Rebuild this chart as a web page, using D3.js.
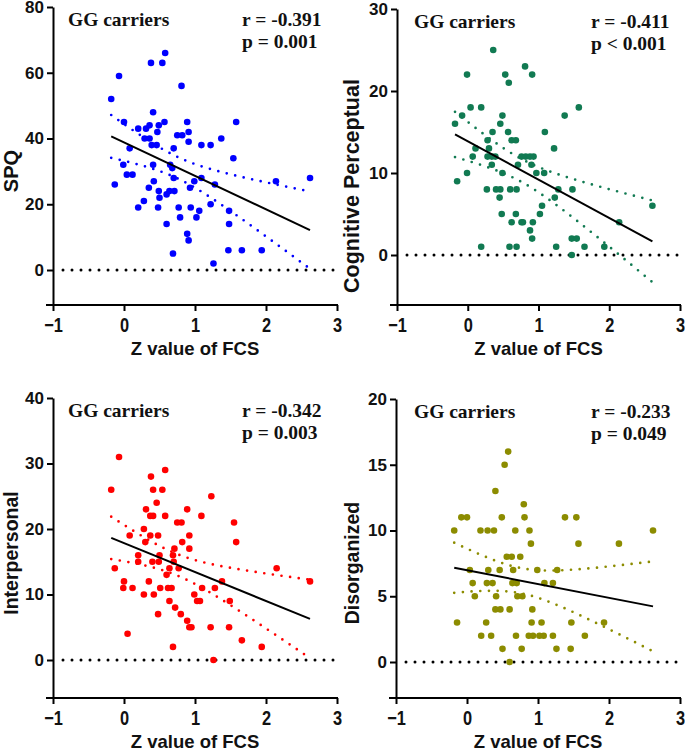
<!DOCTYPE html>
<html>
<head>
<meta charset="utf-8">
<script src="https://cdn.jsdelivr.net/npm/d3@7"></script>
<style>
  html, body { margin: 0; padding: 0; background: #fff; }
  svg { display: block; }
</style>
</head>
<body>
<svg id="chart" width="685" height="751"></svg>
<script>
// ---------------- DATA ----------------
const xTicks = [-1, 0, 1, 2, 3];

const spqPoints = [[-0.18,52],[-0.07,59],[-0.13,26],[0.00,45],[-0.01,32],[0.08,37],[0.04,29],[0.12,29],[0.20,43],[0.20,19],[0.28,21],[0.29,40],[0.36,40],[0.31,43],[0.36,44],[0.38,63],[0.41,48],[0.39,38],[0.46,38],[0.41,32],[0.42,27],[0.35,25],[0.47,42],[0.49,44],[0.49,24],[0.50,22],[0.48,19],[0.54,63],[0.58,66],[0.57,45],[0.60,23],[0.60,14],[0.64,24],[0.65,32],[0.68,31],[0.70,37],[0.70,28],[0.71,24],[0.69,5],[0.75,41],[0.82,41],[0.81,56],[0.77,19],[0.79,16],[0.89,45],[0.91,42],[0.91,39],[0.93,25],[0.99,27],[0.94,19],[0.89,11],[0.91,9],[1.06,18],[1.02,16],[1.09,38],[1.09,28],[1.22,38],[1.28,26],[1.22,20],[1.26,2],[1.37,40],[1.48,18],[1.48,14],[1.47,6],[1.54,34],[1.58,45],[1.66,6],[1.94,6],[2.14,27],[2.62,28]];

const cogPoints = [[-0.18,16],[-0.15,9],[-0.08,17],[-0.01,22],[-0.01,10],[0.04,18],[0.07,12],[0.11,13],[0.19,18],[0.19,1],[0.27,8],[0.28,14],[0.30,13],[0.28,12],[0.34,12],[0.39,12],[0.34,11],[0.36,25],[0.35,15],[0.46,16],[0.49,17],[0.49,10],[0.40,8],[0.46,8],[0.45,7],[0.48,5],[0.53,22],[0.58,21],[0.57,15],[0.60,8],[0.59,1],[0.62,14],[0.68,14],[0.69,8],[0.69,1],[0.68,5],[0.62,4],[0.71,11],[0.76,4],[0.78,4],[0.81,23],[0.76,12],[0.82,12],[0.88,12],[0.93,12],[0.91,22],[0.90,11],[0.88,3],[0.91,2],[0.92,4],[0.97,10],[1.02,5],[1.05,6],[1.08,10],[1.09,15],[1.22,13],[1.23,7],[1.25,1],[1.28,8],[1.37,17],[1.48,8],[1.47,2],[1.54,2],[1.47,0],[1.57,18],[1.65,1],[1.93,1],[2.14,4],[2.61,6]];

const interPoints = [[-0.18,26],[-0.13,14],[-0.07,31],[0.00,12],[-0.01,11],[0.05,4],[0.08,19],[0.12,11],[0.20,16],[0.20,15],[0.28,20],[0.30,18],[0.31,23],[0.28,10],[0.35,12],[0.37,19],[0.37,22],[0.41,22],[0.38,28],[0.41,26],[0.40,15],[0.42,10],[0.46,24],[0.48,19],[0.49,15],[0.50,16],[0.48,7],[0.51,11],[0.54,26],[0.58,29],[0.58,22],[0.60,13],[0.64,14],[0.62,11],[0.67,11],[0.64,9],[0.69,16],[0.71,17],[0.70,15],[0.72,8],[0.69,2],[0.75,21],[0.81,21],[0.77,14],[0.80,7],[0.82,18],[0.89,23],[0.92,19],[0.92,17],[0.89,6],[0.92,5],[0.95,5],[0.99,10],[1.03,9],[1.07,9],[1.10,11],[1.09,22],[1.23,25],[1.22,5],[1.28,11],[1.38,12],[1.26,0],[1.49,9],[1.48,5],[1.55,21],[1.58,18],[1.66,3],[1.94,2],[2.15,14],[2.62,12]];

const disPoints = [[-0.18,10],[-0.14,3],[-0.08,11],[0.00,11],[0.04,7],[0.08,6],[0.11,5],[0.20,2],[0.19,10],[0.27,3],[0.29,10],[0.30,7],[0.28,6],[0.34,2],[0.36,6],[0.38,10],[0.40,13],[0.41,5],[0.40,4],[0.46,7],[0.47,4],[0.49,11],[0.50,1],[0.53,15],[0.56,8],[0.58,16],[0.60,4],[0.60,0],[0.63,8],[0.65,7],[0.64,6],[0.68,10],[0.69,2],[0.70,6],[0.71,5],[0.75,8],[0.77,1],[0.78,5],[0.80,12],[0.81,11],[0.88,10],[0.90,9],[0.91,3],[0.87,2],[0.92,4],[0.93,2],[0.99,7],[1.02,2],[1.05,3],[1.08,2],[1.09,6],[1.21,6],[1.21,2],[1.26,1],[1.27,7],[1.38,11],[1.47,3],[1.46,1],[1.54,11],[1.57,9],[1.66,2],[1.93,3],[2.14,9],[2.62,10]];

// fitted regression lines as printed (intercept, slope)
const fitIntercepts = [38.8, 13.86, 17.85, 6.98];
const fitSlopes = [-10.18, -4.67, -4.42, -1.05];

const panelTitles = ["SPQ", "Cognitive Perceptual", "Interpersonal", "Disorganized"];
const yTickSets = [[0,20,40,60,80],[0,10,20,30],[0,10,20,30,40],[0,5,10,15,20]];
const rLabels = ["r = -0.391", "r = -0.411", "r = -0.342", "r = -0.233"];
const pLabels = ["p = 0.001", "p < 0.001", "p = 0.003", "p = 0.049"];
const groupLabel = "GG carriers";
const xTitle = "Z value of FCS";

// ---------------- LAYOUT (pixels) ----------------
const layouts = [
  {pts: spqPoints,   color: "#0000ff", x0: 53,  x1: 337, yZero: 270, yTop: 7,   yBottom: 305, titleY: 171, titleX: 18,  tSize: 20,   textL: 68,  textR: 242},
  {pts: cogPoints,   color: "#117a52", x0: 397, x1: 680, yZero: 255, yTop: 9,   yBottom: 305, titleY: 186, titleX: 359, tSize: 21.5, textL: 414, textR: 591},
  {pts: interPoints, color: "#ff0000", x0: 53,  x1: 337, yZero: 660, yTop: 398, yBottom: 698, titleY: 553, titleX: 18,  tSize: 19.5, textL: 68,  textR: 242},
  {pts: disPoints,   color: "#8c8c00", x0: 396, x1: 680, yZero: 662, yTop: 399, yBottom: 698, titleY: 563, titleX: 359, tSize: 19.5, textL: 414, textR: 591}
];

const tCrit = 1.995;

function regression(pts, a, b) {
  const n = pts.length;
  const mx = d3.mean(pts, d => d[0]);
  const sxx = d3.sum(pts, d => (d[0]-mx)**2);
  const sse = d3.sum(pts, d => (d[1] - a - b*d[0])**2);
  const s = Math.sqrt(sse / (n-2));
  const xmin = d3.min(pts, d => d[0]), xmax = d3.max(pts, d => d[0]);
  const band = d3.range(0, 81).map(i => {
    const x = xmin + (xmax - xmin) * i / 80;
    const hw = tCrit * s * Math.sqrt(1/n + (x-mx)**2/sxx);
    const yh = a + b*x;
    return {x, lo: yh - hw, hi: yh + hw};
  });
  return {a, b, xmin, xmax, band};
}

const svg = d3.select("#chart");
const sans = "'Liberation Sans', Arial, Helvetica, sans-serif";
const serif = "'Liberation Serif', 'Times New Roman', Times, serif";

layouts.forEach((L, i) => {
  const g = svg.append("g");
  const ymax = d3.max(yTickSets[i]);
  const y = d3.scaleLinear().domain([0, ymax]).range([L.yZero, L.yTop]);
  const ymin = y.invert(L.yBottom);
  y.domain([ymin, ymax]).range([L.yBottom, L.yTop]);
  const x = d3.scaleLinear().domain([-1, 3]).range([L.x0, L.x1]);

  // zero dotted reference line
  g.append("line")
    .attr("x1", x(-1) + 10).attr("x2", x(3) - 2)
    .attr("y1", y(0)).attr("y2", y(0))
    .attr("stroke", "#000").attr("stroke-width", 3)
    .attr("stroke-linecap", "round").attr("stroke-dasharray", "0 9");

  // regression and confidence bands
  const fit = regression(L.pts, fitIntercepts[i], fitSlopes[i]);
  const lineLo = d3.line().x(d => x(d.x)).y(d => y(d.lo));
  const lineHi = d3.line().x(d => x(d.x)).y(d => y(d.hi));
  [lineLo, lineHi].forEach(ln => {
    g.append("path").attr("d", ln(fit.band))
      .attr("fill", "none").attr("stroke", L.color)
      .attr("stroke-width", 2.7).attr("stroke-linecap", "round")
      .attr("stroke-dasharray", "0 8.7");
  });

  // points
  g.append("g").selectAll("circle").data(L.pts).join("circle")
    .attr("cx", d => x(d[0])).attr("cy", d => y(d[1]))
    .attr("r", 3.3).attr("fill", L.color);

  // fit line
  g.append("line")
    .attr("x1", x(fit.xmin)).attr("y1", y(fit.a + fit.b*fit.xmin))
    .attr("x2", x(fit.xmax)).attr("y2", y(fit.a + fit.b*fit.xmax))
    .attr("stroke", "#000").attr("stroke-width", 2);

  // y axis
  const yAx = g.append("g").attr("transform", `translate(${L.x0},0)`)
    .call(d3.axisLeft(y).tickValues(yTickSets[i]).tickSize(6).tickPadding(3).tickSizeOuter(0));
  yAx.select(".domain").attr("stroke-width", 2);
  yAx.selectAll(".tick line").attr("stroke-width", 2);
  yAx.selectAll(".tick text").attr("font-family", sans).attr("font-size", 17)
    .attr("font-weight", "bold").attr("fill", "#111");

  // x axis
  const xAx = g.append("g").attr("transform", `translate(0,${L.yBottom})`)
    .call(d3.axisBottom(x).tickValues(xTicks).tickFormat(d3.format("d")).tickSize(6).tickSizeOuter(0));
  xAx.select(".domain").remove();
  xAx.append("line").attr("x1", L.x0 - 7).attr("x2", L.x1 + 1)
    .attr("stroke", "#000").attr("stroke-width", 2);
  xAx.selectAll(".tick line").attr("stroke-width", 2);
  xAx.selectAll(".tick text").attr("font-family", sans).attr("font-size", 20)
    .attr("font-weight", "bold").attr("fill", "#111")
    .attr("y", 27).attr("dy", 0).attr("transform", "scale(0.82,1)");

  // axis titles
  g.append("text").attr("x", (L.x0 + L.x1)/2).attr("y", L.yBottom + 50)
    .attr("text-anchor", "middle").attr("font-family", sans)
    .attr("font-size", 18.5).attr("font-weight", "bold").attr("fill", "#111")
    .text(xTitle);
  g.append("text")
    .attr("transform", `translate(${L.titleX},${L.titleY}) rotate(-90)`)
    .attr("text-anchor", "middle").attr("font-family", sans)
    .attr("font-size", L.tSize).attr("font-weight", "bold").attr("fill", "#111")
    .text(panelTitles[i]);

  // annotations
  const ann = (tx, ty, s) => g.append("text").attr("x", tx).attr("y", ty)
    .attr("font-family", serif).attr("font-size", 19.5).attr("font-weight", "bold")
    .attr("fill", "#111").text(s);
  ann(L.textL, L.yTop + 19, groupLabel);
  ann(L.textR, L.yTop + 19, rLabels[i]);
  ann(L.textR, L.yTop + 41, pLabels[i]);
});
</script>
</body>
</html>
